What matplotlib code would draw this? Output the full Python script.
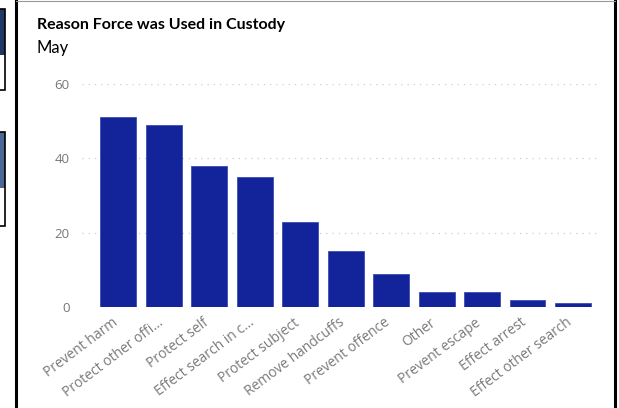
import matplotlib.pyplot as plt
from matplotlib.patches import Rectangle
from matplotlib.lines import Line2D
from matplotlib.transforms import ScaledTranslation

# reasons for use of force in custody, May
reasons = [
    "Prevent harm", "Protect other offi...", "Protect self", "Effect search in c...",
    "Protect subject", "Remove handcuffs", "Prevent offence", "Other",
    "Prevent escape", "Effect arrest", "Effect other search",
]
counts = [51, 49, 38, 35, 23, 15, 9, 4, 4, 2, 1]
y_ticks = [0, 20, 40, 60]

W, H = 619, 408
fig = plt.figure(figsize=(W / 100, H / 100), dpi=100)
fig.patch.set_facecolor("white")

ax = fig.add_axes([82 / W, 1 - 307 / H, (598 - 82) / W, (307 - 84) / H])
x = range(len(reasons))
ax.bar(x, counts, width=0.79, color="#13249b", edgecolor="#3a4cb5", linewidth=0.6, zorder=3)

ax.set_xlim(-0.8, 10.55)
ax.set_ylim(0, 60)
ax.set_yticks(y_ticks)
ax.set_yticklabels([str(v) for v in y_ticks], fontsize=9.5, color="#777777", family="Open Sans")
ax.set_xticks(list(x))
ax.set_xticklabels(reasons, rotation=37, ha="right", rotation_mode="anchor",
                   fontsize=10, color="#7a7a7a", family="Open Sans")
ax.tick_params(axis="both", length=0)
ax.tick_params(axis="y", pad=9)
ax.tick_params(axis="x", pad=6)
# nudge the slanted labels so they end just left of each bar's centre
shift = ScaledTranslation(-0.07, 0, fig.dpi_scale_trans)
for lbl in ax.get_xticklabels():
    lbl.set_transform(lbl.get_transform() + shift)
ax.grid(axis="y", color="#cccccc", linestyle=(0, (1, 4)), linewidth=0.9, zorder=0)
for s in ax.spines.values():
    s.set_visible(False)

# titles
fig.text(37 / W, 1 - 25 / H, "Reason Force was Used in Custody", fontsize=11.5,
         fontweight="bold", family="Lato", va="center", ha="left")
fig.text(37 / W, 1 - 48 / H, "May", fontsize=12, family="Lato", va="center", ha="left")

# panel frame
fig.add_artist(Line2D([16 / W, 16 / W], [0, 1], color="black", lw=2.2))
fig.add_artist(Line2D([615 / W, 615 / W], [0, 1], color="black", lw=2.2))
fig.add_artist(Line2D([16 / W, 615 / W], [1 - 1 / H, 1 - 1 / H], color="#999999", lw=0.8))

# neighbouring panels at the left edge
fig.add_artist(Rectangle((-2 / W, 1 - 55 / H), 7 / W, 46 / H, facecolor="#1f3864",
                         edgecolor="none"))
fig.add_artist(Rectangle((-2 / W, 1 - 90 / H), 7 / W, 81 / H, facecolor="none",
                         edgecolor="black", lw=1.2))
fig.add_artist(Rectangle((-2 / W, 1 - 188 / H), 7 / W, 56 / H, facecolor="#4b6796",
                         edgecolor="none"))
fig.add_artist(Rectangle((-2 / W, 1 - 226 / H), 7 / W, 94 / H, facecolor="none",
                         edgecolor="black", lw=1.2))

fig.savefig("out.png", dpi=100)
